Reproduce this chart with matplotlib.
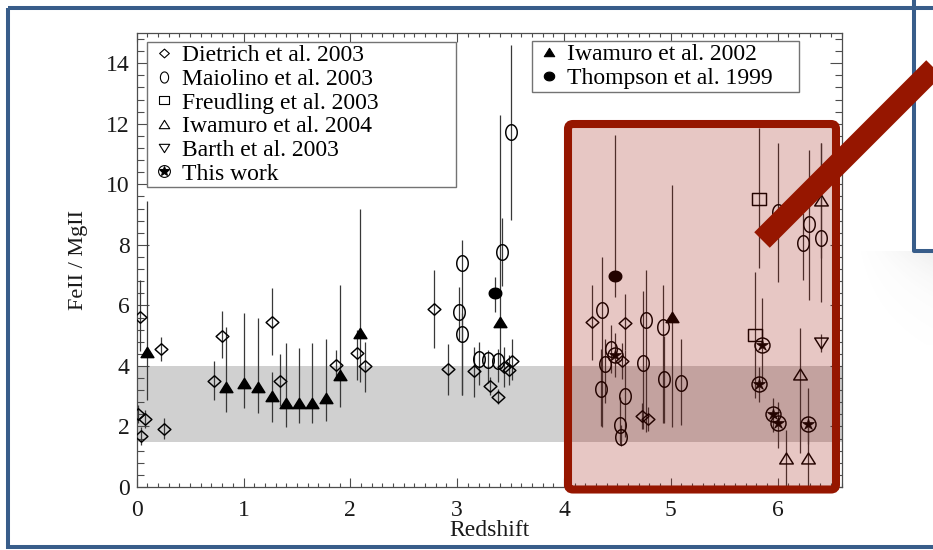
import numpy as np
import matplotlib.pyplot as plt
from matplotlib.path import Path
from matplotlib.lines import Line2D
from matplotlib.patches import FancyBboxPatch, Rectangle
from matplotlib.transforms import Affine2D
from matplotlib.ticker import MultipleLocator

plt.rcParams['font.family'] = ['Liberation Serif', 'DejaVu Serif']

# --- FeII/MgII ratios vs redshift, one block per source ---
# Dietrich et al. 2003
dietrich_z = [0.03, 0.01, 0.08, 0.04, 0.23, 0.26, 0.72, 0.80, 1.27, 1.34, 1.87, 2.06, 2.14,
              2.78, 2.91, 3.16, 3.31, 3.38, 3.44, 3.49, 3.51, 4.26, 4.57, 4.54, 4.73, 4.79]
dietrich_r = [5.63, 2.40, 2.25, 1.68, 4.56, 1.92, 3.51, 5.00, 5.46, 3.51, 4.02, 4.44, 4.00,
              5.88, 3.89, 3.82, 3.34, 2.99, 3.98, 3.86, 4.15, 5.44, 5.43, 4.17, 2.36, 2.25]
dietrich_lo = [1.15, 0.30, 0.30, 0.30, 0.40, 0.35, 0.65, 0.75, 1.10, 0.85, 0.50, 0.90, 0.85,
               1.30, 0.85, 0.83, 0.30, 0.25, 0.67, 0.50, 0.60, 1.25, 0.90, 0.60, 0.45, 0.40]
dietrich_hi = [1.20, 0.30, 0.30, 0.30, 0.40, 0.35, 0.65, 0.80, 1.10, 0.90, 0.50, 0.75, 0.80,
               1.30, 0.85, 0.82, 0.30, 0.25, 0.65, 0.50, 0.75, 1.25, 0.95, 0.60, 0.40, 0.40]

# Maiolino et al. 2003
maiolino_z = [3.05, 3.02, 3.05, 3.20, 3.29, 3.38, 3.42, 3.50, 4.36, 4.44, 4.38, 4.35, 4.57,
              4.52, 4.53, 4.77, 4.74, 4.93, 4.94, 5.10, 6.00, 6.29, 6.24, 6.41]
maiolino_r = [7.41, 5.79, 5.04, 4.22, 4.19, 4.17, 7.75, 11.72, 5.85, 4.56, 4.06, 3.23, 3.01,
              2.05, 1.66, 5.52, 4.11, 5.30, 3.57, 3.43, 9.09, 8.68, 8.05, 8.22]
maiolino_lo = [4.37, 0.93, 2.00, 0.85, 0.74, 0.70, 1.11, 2.90, 3.86, 0.79, 1.27, 1.23, 1.35,
               0.64, 0.29, 3.69, 2.21, 3.20, 1.47, 1.39, 2.31, 2.50, 1.21, 2.10]
maiolino_hi = [0.75, 0.83, 0.71, 0.58, 0.34, 0.40, 1.15, 2.90, 1.76, 0.79, 0.82, 1.32, 1.52,
               0.92, 0.39, 1.65, 2.36, 1.37, 1.42, 1.46, 2.26, 2.45, 1.00, 3.13]

# Freudling et al. 2003
freudling_z = [5.83, 5.79]
freudling_r = [9.51, 5.02]
freudling_lo = [2.28, 2.09]
freudling_hi = [2.34, 2.09]

# Iwamuro et al. 2004
iwamuro04_z = [6.41, 6.21, 6.08, 6.28]
iwamuro04_r = [9.48, 3.72, 0.97, 0.95]
iwamuro04_lo = [1.90, 2.61, 0.97, 0.95]
iwamuro04_hi = [1.87, 1.52, 0.91, 1.20]

# Barth et al. 2003
barth_z = [6.41]
barth_r = [4.75]
barth_lo = [0.30]
barth_hi = [0.30]

# This work
this_z = [4.48, 5.85, 5.83, 5.96, 6.00, 6.28]
this_r = [4.36, 4.69, 3.39, 2.40, 2.10, 2.07]
this_lo = [0.72, 1.26, 0.57, 0.57, 0.82, 0.66]
this_hi = [0.72, 1.54, 0.58, 0.53, 0.72, 1.19]

# Iwamuro et al. 2002
iwamuro02_z = [0.094, 0.837, 1.006, 1.14, 1.27, 1.40, 1.52, 1.64, 1.77, 1.905, 2.09, 3.405, 5.01]
iwamuro02_r = [4.45, 3.31, 3.43, 3.29, 3.02, 2.76, 2.76, 2.79, 2.95, 3.70, 5.08, 5.46, 5.63]
iwamuro02_lo = [1.58, 0.82, 0.83, 0.83, 0.86, 0.77, 0.66, 0.69, 0.77, 1.07, 1.60, 1.56, 3.64]
iwamuro02_hi = [5.00, 1.99, 2.33, 2.31, 0.79, 1.99, 1.83, 1.96, 1.94, 2.97, 4.09, 6.83, 4.35]

# Thompson et al. 1999
thompson_z = [3.35, 4.48]
thompson_r = [6.40, 6.98]
thompson_lo = [0.61, 0.70]
thompson_hi = [0.55, 4.65]

# band of low-z quasar ratios
band_lo, band_hi = 1.5, 4.0


def closed(verts):
    v = np.array(list(verts) + [verts[0]], dtype=float)
    codes = [Path.MOVETO] + [Path.LINETO] * (len(verts) - 1) + [Path.CLOSEPOLY]
    return Path(v, codes)


t = np.linspace(0, 2 * np.pi, 64)
m_tall_ellipse = Path(np.c_[0.74 * np.cos(t), np.sin(t)])
m_wide_ellipse = Path(np.c_[np.cos(t), 0.84 * np.sin(t)])
m_diamond = closed([(0, 0.9), (1, 0), (0, -0.9), (-1, 0)])
m_tri_up = closed([(-1, -0.8), (1, -0.8), (0, 0.8)])
m_tri_dn = closed([(-1, 0.8), (1, 0.8), (0, -0.8)])
m_square = closed([(-1, -0.92), (1, -0.92), (1, 0.92), (-1, 0.92)])

W, H = 933, 550
fig = plt.figure(figsize=(W / 100, H / 100), dpi=100)
ax = fig.add_axes([136.7 / W, 1 - 487 / H, 705 / W, 454 / H])

ax.axhspan(band_lo, band_hi, color='#d0d0d0', lw=0, zorder=0)

ecol = '0.22'
sets = [
    (dietrich_z, dietrich_r, dietrich_lo, dietrich_hi, m_diamond, 9.2, 'none'),
    (maiolino_z, maiolino_r, maiolino_lo, maiolino_hi, m_tall_ellipse, 11.2, 'none'),
    (freudling_z, freudling_r, freudling_lo, freudling_hi, m_square, 9.6, 'none'),
    (iwamuro04_z, iwamuro04_r, iwamuro04_lo, iwamuro04_hi, m_tri_up, 9.8, 'none'),
    (barth_z, barth_r, barth_lo, barth_hi, m_tri_dn, 9.8, 'none'),
    (iwamuro02_z, iwamuro02_r, iwamuro02_lo, iwamuro02_hi, m_tri_up, 9.2, 'k'),
    (thompson_z, thompson_r, thompson_lo, thompson_hi, m_wide_ellipse, 9.0, 'k'),
]
for z, r, lo, hi, mk, ms, fc in sets:
    ax.errorbar(z, r, yerr=[lo, hi], fmt='none', ecolor=ecol, elinewidth=0.9, zorder=2)
    ax.plot(z, r, ls='none', marker=mk, ms=ms, mfc=fc, mec='k', mew=1.05, zorder=3)

ax.errorbar(this_z, this_r, yerr=[this_lo, this_hi], fmt='none', ecolor=ecol, elinewidth=0.9, zorder=2)
ax.plot(this_z, this_r, ls='none', marker='o', ms=10.8, mfc='none', mec='k', mew=1.05, zorder=3)
ax.plot(this_z, this_r, ls='none', marker='*', ms=9, mfc='k', mec='k', mew=0.5, zorder=3)

ax.set_xlim(0, 6.6)
ax.set_ylim(0, 15)
ax.xaxis.set_major_locator(MultipleLocator(1))
ax.xaxis.set_minor_locator(MultipleLocator(0.1))
ax.yaxis.set_major_locator(MultipleLocator(2))
ax.yaxis.set_minor_locator(MultipleLocator(0.4))
ax.tick_params(which='both', direction='in', top=True, right=True, color='0.3',
               width=0.8, labelsize=17, labelcolor='0.1')
ax.tick_params(axis='x', which='major', length=6.5, pad=9)
ax.tick_params(axis='x', which='minor', length=2.7)
ax.tick_params(axis='y', which='major', length=8.5, pad=5)
ax.tick_params(axis='y', which='minor', length=5)
for s in ax.spines.values():
    s.set_color('0.3')
    s.set_linewidth(0.9)

ax.set_xlabel('Redshift', fontsize=17, color='0.1', labelpad=0)
ax.set_ylabel('FeII / MgII', fontsize=16, color='0.1', labelpad=13)


def proxy(mk, ms, fc):
    return Line2D([], [], ls='none', marker=mk, ms=ms, mfc=fc, mec='k', mew=0.8)


h1 = [proxy(m_diamond, 7, 'none'), proxy(m_tall_ellipse, 8, 'none'), proxy(m_square, 7, 'none'),
      proxy(m_tri_up, 7.5, 'none'), proxy(m_tri_dn, 7.5, 'none'),
      (proxy('o', 8.5, 'none'), proxy('*', 7.5, 'k'))]
l1 = ['Dietrich et al. 2003', 'Maiolino et al. 2003', 'Freudling et al. 2003',
      'Iwamuro et al. 2004', 'Barth et al. 2003', 'This work']
h2 = [proxy(m_tri_up, 7.5, 'k'), proxy(m_wide_ellipse, 7.5, 'k')]
l2 = ['Iwamuro et al. 2002', 'Thompson et al. 1999']

common = dict(loc='upper left', mode='expand', bbox_transform=fig.transFigure, borderaxespad=0,
              fontsize=17, fancybox=False, framealpha=1, edgecolor='0.45',
              handlelength=1.2, handletextpad=0.15, borderpad=0.12, labelspacing=0.09)
leg1 = ax.legend(h1, l1, bbox_to_anchor=(147 / W, 1 - 189 / H, 309 / W, 147 / H), **common)
leg1.get_frame().set_linewidth(1.0)
ax.add_artist(leg1)
leg2 = ax.legend(h2, l2, bbox_to_anchor=(532 / W, 1 - 92 / H, 267 / W, 51 / H), **common)
leg2.get_frame().set_linewidth(1.0)

# --- slide annotations drawn in pixel coordinates (origin top-left) ---
pix = Affine2D().scale(1, -1).translate(0, H)
red = '#961600'
blue = '#385d8a'

box = FancyBboxPatch((568, 124), 268, 365.5, boxstyle='round,pad=0,rounding_size=5',
                     transform=pix, facecolor=(0.6, 0.05, 0.0, 0.23), edgecolor=red, lw=5.8)
fig.add_artist(box)

# soft drop shadow under the callout box at the right edge
sh = fig.add_axes([850 / W, 1 - 345 / H, 83 / W, 94 / H], zorder=0.5)
sx = np.linspace(0, 1, 83)[None, :]
sy = np.linspace(0, 1, 94)[:, None]
alpha = 0.11 * np.clip(sx, 0, 1) ** 1.6 * np.exp(-sy * 3.2)
shade = np.zeros((94, 83, 4))
shade[..., :3] = 0.4
shade[..., 3] = alpha
sh.imshow(shade, aspect='auto', interpolation='bilinear')
sh.set_axis_off()

frame = Rectangle((7.5, 7.5), 1000, 539.5, transform=pix, fill=False, edgecolor=blue, lw=2.9)
fig.add_artist(frame)
fig.add_artist(Line2D([913.5, 913.5, 1000], [-5, 250.5, 250.5], transform=pix, color=blue, lw=2.9))

fig.add_artist(Line2D([762, 1012], [240, -10], transform=pix, color=red, lw=15.8,
                      solid_capstyle='butt'))

fig.savefig('out.png', dpi=100)
